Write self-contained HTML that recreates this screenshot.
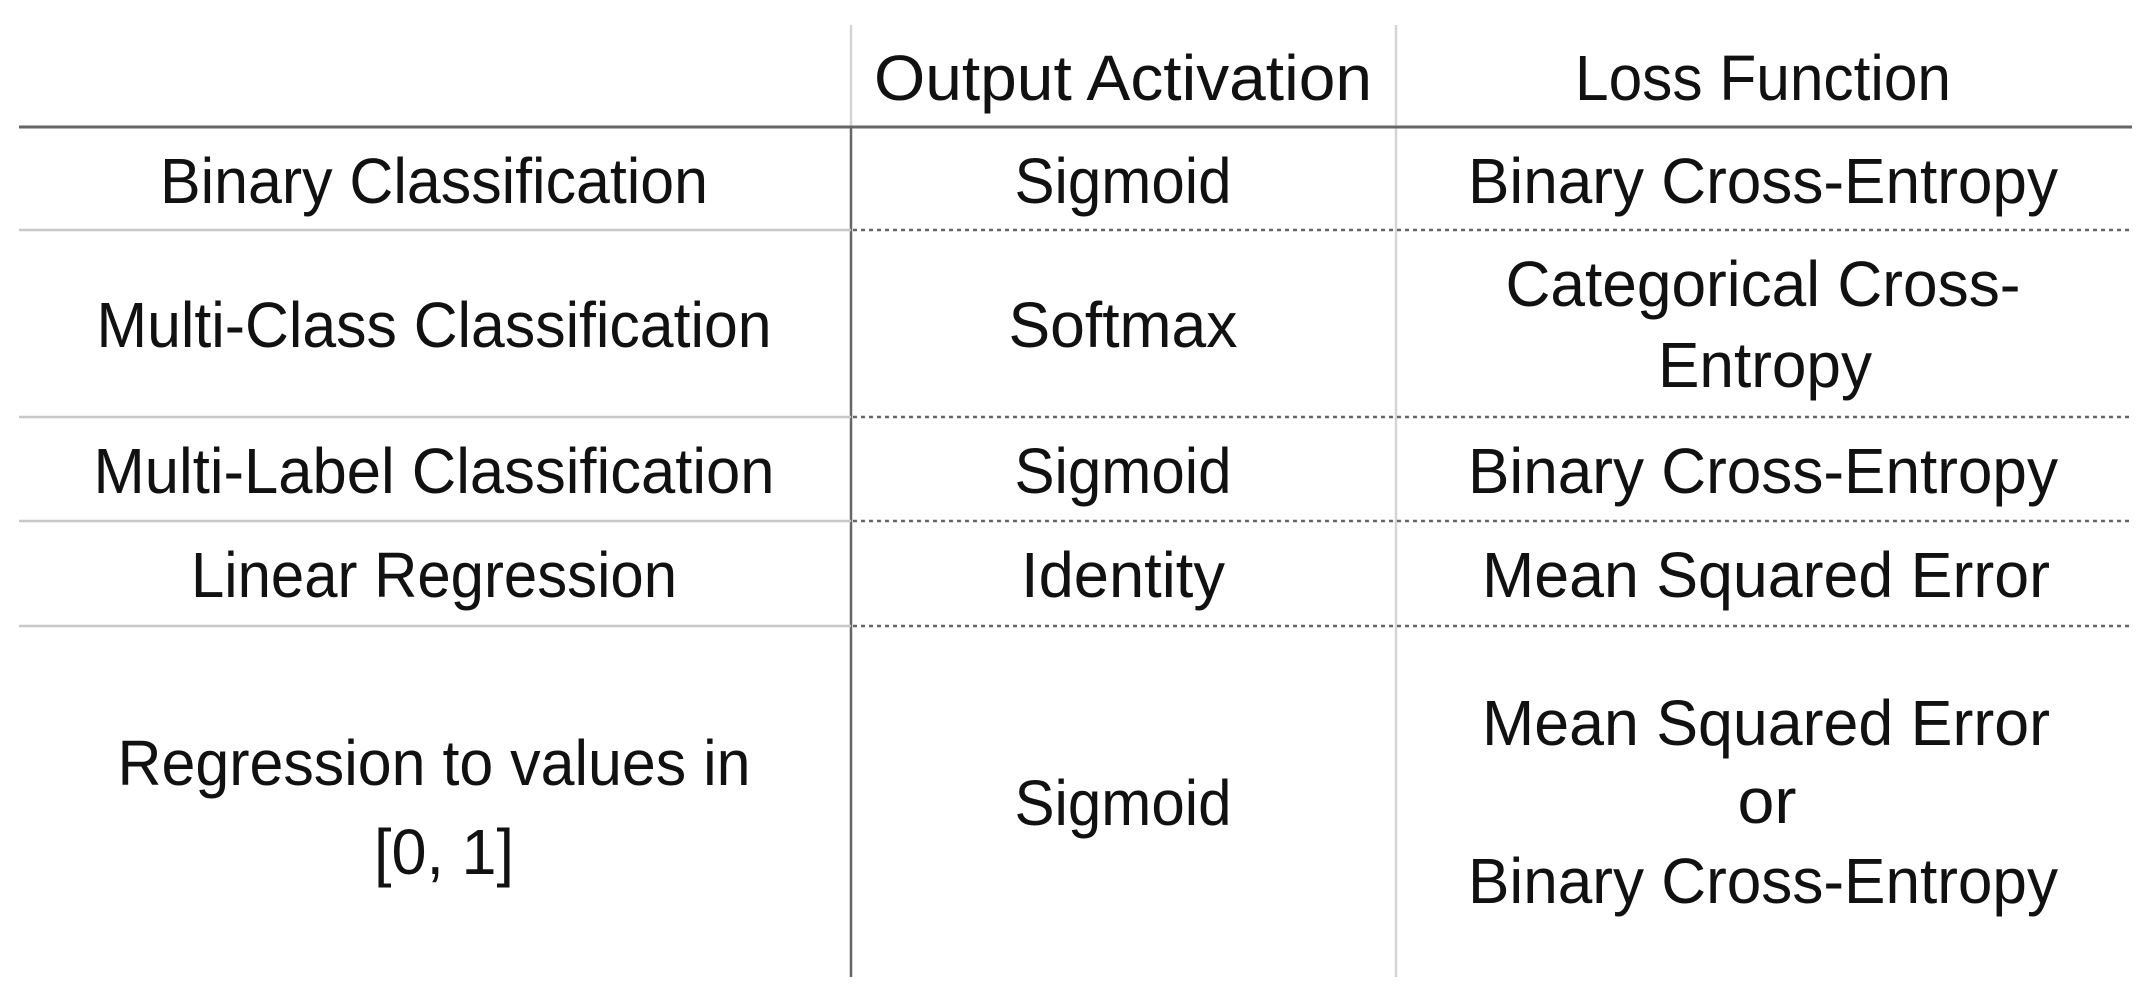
<!DOCTYPE html>
<html><head><meta charset="utf-8"><style>
html,body{margin:0;padding:0;background:#fff;width:2152px;height:1006px;overflow:hidden}
text{font-family:"Liberation Sans",sans-serif;font-size:64px;fill:#111;text-anchor:middle}
</style></head><body>
<svg width="2152" height="1006" xmlns="http://www.w3.org/2000/svg">
<g stroke-width="2.5" fill="none">
<line x1="851" y1="25" x2="851" y2="126" stroke="#d4d4d4"/>
<line x1="851" y1="126" x2="851" y2="977" stroke="#666"/>
<line x1="1396" y1="25" x2="1396" y2="977" stroke="#d4d4d4"/>
<line x1="19" y1="127" x2="2132" y2="127" stroke="#666" stroke-width="3"/>
<g stroke="#c8c8c8">
<line x1="19" y1="230" x2="851" y2="230"/>
<line x1="19" y1="417" x2="851" y2="417"/>
<line x1="19" y1="521" x2="851" y2="521"/>
<line x1="19" y1="626" x2="851" y2="626"/>
</g>
<g stroke="#666" stroke-width="2.5" stroke-dasharray="4 4">
<line x1="853" y1="230" x2="2132" y2="230"/>
<line x1="853" y1="417" x2="2132" y2="417"/>
<line x1="853" y1="521" x2="2132" y2="521"/>
<line x1="853" y1="626" x2="2132" y2="626"/>
</g>
</g>
<g>
<text x="1123" y="100" textLength="498" lengthAdjust="spacingAndGlyphs">Output Activation</text>
<text x="1763" y="100" textLength="376" lengthAdjust="spacingAndGlyphs">Loss Function</text>

<text x="434" y="203" textLength="548" lengthAdjust="spacingAndGlyphs">Binary Classification</text>
<text x="1123" y="203" textLength="217" lengthAdjust="spacingAndGlyphs">Sigmoid</text>
<text x="1763" y="203" textLength="590" lengthAdjust="spacingAndGlyphs">Binary Cross-Entropy</text>

<text x="434" y="347" textLength="675" lengthAdjust="spacingAndGlyphs">Multi-Class Classification</text>
<text x="1123" y="347" textLength="229" lengthAdjust="spacingAndGlyphs">Softmax</text>
<text x="1763" y="306" textLength="515" lengthAdjust="spacingAndGlyphs">Categorical Cross-</text>
<text x="1765" y="387" textLength="214" lengthAdjust="spacingAndGlyphs">Entropy</text>

<text x="434" y="493" textLength="681" lengthAdjust="spacingAndGlyphs">Multi-Label Classification</text>
<text x="1123" y="493" textLength="217" lengthAdjust="spacingAndGlyphs">Sigmoid</text>
<text x="1763" y="493" textLength="590" lengthAdjust="spacingAndGlyphs">Binary Cross-Entropy</text>

<text x="434" y="597" textLength="486" lengthAdjust="spacingAndGlyphs">Linear Regression</text>
<text x="1123" y="597" textLength="204" lengthAdjust="spacingAndGlyphs">Identity</text>
<text x="1766" y="597" textLength="568" lengthAdjust="spacingAndGlyphs">Mean Squared Error</text>

<text x="434" y="785" textLength="633" lengthAdjust="spacingAndGlyphs">Regression to values in</text>
<text x="444" y="874" textLength="140" lengthAdjust="spacingAndGlyphs">[0, 1]</text>
<text x="1123" y="825" textLength="217" lengthAdjust="spacingAndGlyphs">Sigmoid</text>
<text x="1766" y="745" textLength="568" lengthAdjust="spacingAndGlyphs">Mean Squared Error</text>
<text x="1767" y="823" textLength="59" lengthAdjust="spacingAndGlyphs">or</text>
<text x="1763" y="903" textLength="590" lengthAdjust="spacingAndGlyphs">Binary Cross-Entropy</text>
</g>
</svg>
</body></html>
